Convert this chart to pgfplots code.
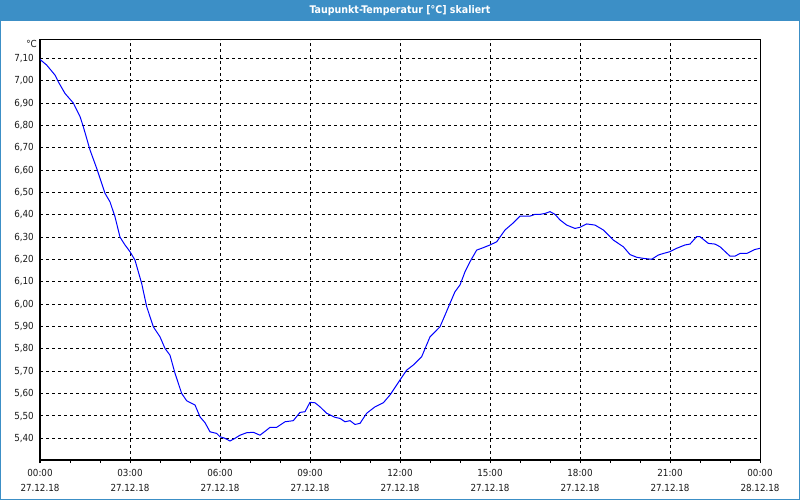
\documentclass[border=0pt]{standalone}
\usepackage{fontspec}
\setmainfont{DejaVu Sans Condensed}
\usepackage{pgfplots}
\pgfplotsset{compat=1.18}
\definecolor{framebl}{HTML}{3C8FC6}
\definecolor{lbl}{HTML}{1A1A1A}
\begin{document}
\begin{tikzpicture}
\useasboundingbox (0,0) rectangle (600pt,375pt);
\fill[white] (0,0) rectangle (600pt,375pt);
\fill[framebl] (0,359.5pt) rectangle (600pt,375pt);
\draw[framebl, line width=0.9pt] (0.45pt,0.45pt) rectangle (599.55pt,374.55pt);
\node[text=white, font=\bfseries\fontsize{7.9}{9}\selectfont] at (300pt,367.2pt) {Taupunkt-Temperatur [°C] skaliert};
\begin{axis}[name=ax,
  at={(30pt,30pt)}, anchor=south west,
  width=540pt, height=315pt, scale only axis,
  xmin=0, xmax=24, ymin=5.303, ymax=7.182,
  axis line style={black, line width=0.75pt},
  xtick={0,3,...,24},
  minor xtick={0,1,...,24},
  xticklabels={{00:00\\27.12.18},{03:00\\27.12.18},{06:00\\27.12.18},{09:00\\27.12.18},{12:00\\27.12.18},{15:00\\27.12.18},{18:00\\27.12.18},{21:00\\27.12.18},{00:00\\28.12.18}},
  xticklabel style={align=center, font=\fontsize{7.3}{11.25}\selectfont, text=lbl, yshift=-1.5pt},
  ytick={5.4,5.5,...,7.15},
  yticklabel style={font=\fontsize{7.3}{8}\selectfont, text=lbl, inner sep=0pt, xshift=-2.2pt,
    /pgf/number format/assume math mode=true,
    /pgf/number format/fixed, /pgf/number format/zerofill, /pgf/number format/precision=2,
    /pgf/number format/use comma, /pgf/number format/1000 sep={}},
  xtick pos=left, ytick pos=left,
  tick align=outside,
  major tick length=2.25pt, minor tick length=2.25pt,
  x tick style={black, line width=0.75pt},
  y tick style={draw=none},
  xmajorgrids, ymajorgrids,
  major grid style={black, line width=0.75pt, dash pattern=on 2.6pt off 1.9pt},
  clip=true,
]
\addplot[blue, line width=0.75pt, sharp plot] coordinates {
(0.000,7.095) (0.222,7.07) (0.5,7.025) (0.611,6.995) (0.833,6.943) (1.111,6.90)
(1.333,6.84) (1.444,6.794) (1.667,6.69) (1.889,6.608) (2.056,6.541) (2.167,6.496)
(2.333,6.458) (2.5,6.391) (2.667,6.30) (2.833,6.265) (3.0,6.235) (3.167,6.197)
(3.389,6.093) (3.556,5.989) (3.778,5.899) (4.0,5.854) (4.167,5.802) (4.333,5.772)
(4.5,5.691) (4.722,5.601) (4.889,5.568) (5.167,5.549) (5.333,5.496) (5.5,5.470)
(5.667,5.429) (5.889,5.422) (6.0,5.407) (6.167,5.400) (6.333,5.388) (6.5,5.40)
(6.667,5.414) (6.889,5.425) (7.111,5.427) (7.333,5.414) (7.556,5.437) (7.667,5.449)
(7.889,5.449) (8.167,5.474) (8.444,5.479) (8.667,5.516) (8.833,5.519) (9.0,5.561)
(9.167,5.559) (9.333,5.541) (9.556,5.512) (9.833,5.494) (10.0,5.489) (10.167,5.474)
(10.333,5.479) (10.5,5.462) (10.667,5.467) (10.889,5.512) (11.167,5.541) (11.444,5.559)
(11.667,5.594) (12.0,5.661) (12.222,5.705) (12.444,5.728) (12.722,5.765) (13.0,5.854)
(13.333,5.899) (13.5,5.951) (13.667,6.004) (13.833,6.056) (14.0,6.086) (14.167,6.145)
(14.333,6.19) (14.556,6.242) (14.778,6.253) (15.0,6.265) (15.222,6.279) (15.5,6.332)
(15.778,6.364) (16.0,6.394) (16.333,6.394) (16.5,6.402) (16.667,6.402) (16.833,6.406)
(17.0,6.414) (17.167,6.402) (17.333,6.377) (17.556,6.354) (17.833,6.339) (18.0,6.344)
(18.222,6.359) (18.5,6.354) (18.778,6.332) (19.111,6.287) (19.444,6.257) (19.667,6.222)
(19.889,6.210) (20.111,6.205) (20.389,6.201) (20.611,6.22) (20.778,6.227) (21.0,6.235)
(21.222,6.25) (21.5,6.265) (21.667,6.269) (21.889,6.302) (22.0,6.302) (22.278,6.272)
(22.5,6.269) (22.667,6.257) (23.0,6.215) (23.167,6.215) (23.333,6.227) (23.556,6.227)
(23.833,6.245) (24.0,6.25)
};
\end{axis}
\node[anchor=east, inner sep=0pt, font=\fontsize{7.3}{8}\selectfont, text=lbl] at ([xshift=-2.2pt,yshift=-3pt]ax.north west) {°C};
\end{tikzpicture}
\end{document}
